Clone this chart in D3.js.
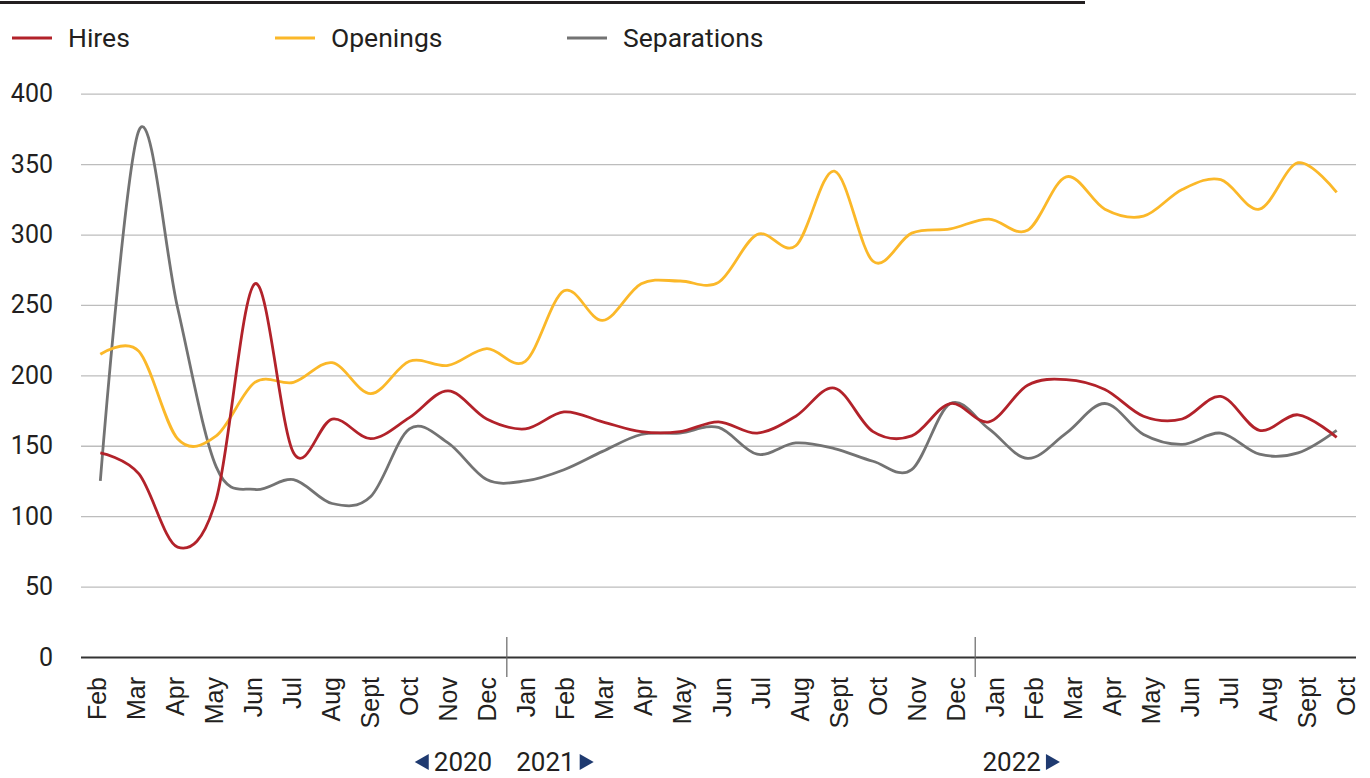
<!DOCTYPE html>
<html>
<head>
<meta charset="utf-8">
<script src="https://cdn.jsdelivr.net/npm/d3@7"></script>
<style>
  body { margin: 0; background: #fff; }
  svg { display: block; }
</style>
</head>
<body>
<div id="chart"></div>
<script>
// data (thousands), Feb 2020 - Oct 2022
var months = ["Feb","Mar","Apr","May","Jun","Jul","Aug","Sept","Oct","Nov","Dec",
              "Jan","Feb","Mar","Apr","May","Jun","Jul","Aug","Sept","Oct","Nov","Dec",
              "Jan","Feb","Mar","Apr","May","Jun","Jul","Aug","Sept","Oct"];
var hires = [145,130,78,112,265,145,169,155,170,189,169,
             162,174,167,160,160,167,159,171,191,160,157,180,
             167,193,197,190,171,169,185,161,172,156];
var openings = [215,217,155,157,195,195,209,187,210,207,219,
                210,260,239,265,267,266,300,292,345,281,301,304,
                311,303,341,318,313,332,339,318,351,330];
var separations = [125,374,248,135,119,126,109,114,162,152,126,
                   125,133,146,158,159,163,144,152,148,139,133,180,
                   162,141,159,180,158,151,159,144,145,161];
var yTicks = [0,50,100,150,200,250,300,350,400];
var years = [{label:"2020", side:"left", at:10}, {label:"2021", side:"right", at:10}, {label:"2022", side:"right", at:22}];

var w = 1370, h = 778;
var padL = 81, padR = 1356, plotTop = 93.7, plotBottom = 657;

var svg = d3.select("#chart").append("svg").attr("width", w).attr("height", h);

// scales
var keys = d3.range(months.length);
var xScale = d3.scalePoint().domain(keys).range([padL, padR]).padding(0.5);
var labelScale = d3.scalePoint().domain(keys).range([97, 1346]);
var yScale = d3.scaleLinear().domain([0, 400]).range([plotBottom, plotTop]);

// top rule
svg.append("line").attr("x1", 0).attr("x2", 1085).attr("y1", 2.5).attr("y2", 2.5)
   .attr("stroke", "#231f20").attr("stroke-width", 3);

// legend
var series = [
  {name: "Hires", values: hires, color: "#b2222a", lx: 12},
  {name: "Openings", values: openings, color: "#fbb829", lx: 275},
  {name: "Separations", values: separations, color: "#737373", lx: 567}
];
var leg = svg.append("g").selectAll("g").data(series).enter().append("g")
   .attr("transform", function(d) { return "translate(" + d.lx + ",38)"; });
leg.append("line").attr("x1", 0).attr("x2", 40).attr("stroke", function(d) { return d.color; }).attr("stroke-width", 3);
leg.append("text").attr("x", 56).attr("dy", "0.35em")
   .style("font-family", "Roboto, 'Noto Sans', sans-serif").style("font-size", "26.5px").attr("fill", "#231f20")
   .text(function(d) { return d.name; });

// y axis with gridlines
var yAxis = d3.axisLeft(yScale).tickValues(yTicks).tickSize(-(padR - padL)).tickPadding(28);
var gy = svg.append("g").attr("transform", "translate(" + padL + ",0)").call(yAxis);
gy.select(".domain").remove();
gy.selectAll(".tick line").attr("stroke", function(d) { return d === 0 ? "#333" : "#bdbdbd"; })
  .attr("stroke-width", function(d) { return d === 0 ? 2.2 : 1.3; });
gy.selectAll(".tick text").style("font-family", "Roboto, 'Noto Sans', sans-serif").style("font-size", "25px").attr("fill", "#231f20");

// month labels
svg.append("g").selectAll("text").data(keys).enter().append("text")
   .attr("transform", function(d) { return "translate(" + labelScale(d) + ",677) rotate(-90)"; })
   .attr("text-anchor", "end").attr("dy", "0.36em")
   .style("font-family", "'Liberation Sans', Arial, sans-serif").style("font-size", "25px").attr("fill", "#231f20")
   .text(function(d) { return months[d]; });

// year dividers
var step = labelScale.step();
[10, 22].forEach(function(i) {
  var xd = labelScale(i) + step / 2;
  svg.append("line").attr("x1", xd).attr("x2", xd).attr("y1", 637).attr("y2", 677)
     .attr("stroke", "#666").attr("stroke-width", 1.2);
});

// year labels with arrows
years.forEach(function(y) {
  var xd = labelScale(y.at) + step / 2;
  var t = svg.append("text").attr("y", 771)
     .style("font-family", "Roboto, 'Noto Sans', sans-serif").style("font-size", "26px").attr("fill", "#231f20")
     .text(y.label);
  if (y.side === "left") {
    t.attr("x", xd - 14.6).attr("text-anchor", "end");
    var bx = t.node().getBBox();
    var ax = bx.x - 5;
    svg.append("path").attr("d", "M" + ax + ",754L" + ax + ",770L" + (ax - 14) + ",762Z").attr("fill", "#1f3a70");
  } else {
    t.attr("x", xd + (y.at === 10 ? 9.4 : 7.3));
    var bx2 = t.node().getBBox();
    var ax2 = bx2.x + bx2.width + 5;
    svg.append("path").attr("d", "M" + ax2 + ",754L" + ax2 + ",770L" + (ax2 + 14) + ",762Z").attr("fill", "#1f3a70");
  }
});

// lines
var line = d3.line().x(function(d, i) { return xScale(i); }).y(function(d) { return yScale(d); })
   .curve(d3.curveCardinal.tension(0));
svg.append("g").selectAll("path").data(series.slice().reverse()).enter().append("path")
   .attr("d", function(d) { return line(d.values); })
   .attr("fill", "none").attr("stroke", function(d) { return d.color; }).attr("stroke-width", 2.8);
</script>
</body>
</html>
